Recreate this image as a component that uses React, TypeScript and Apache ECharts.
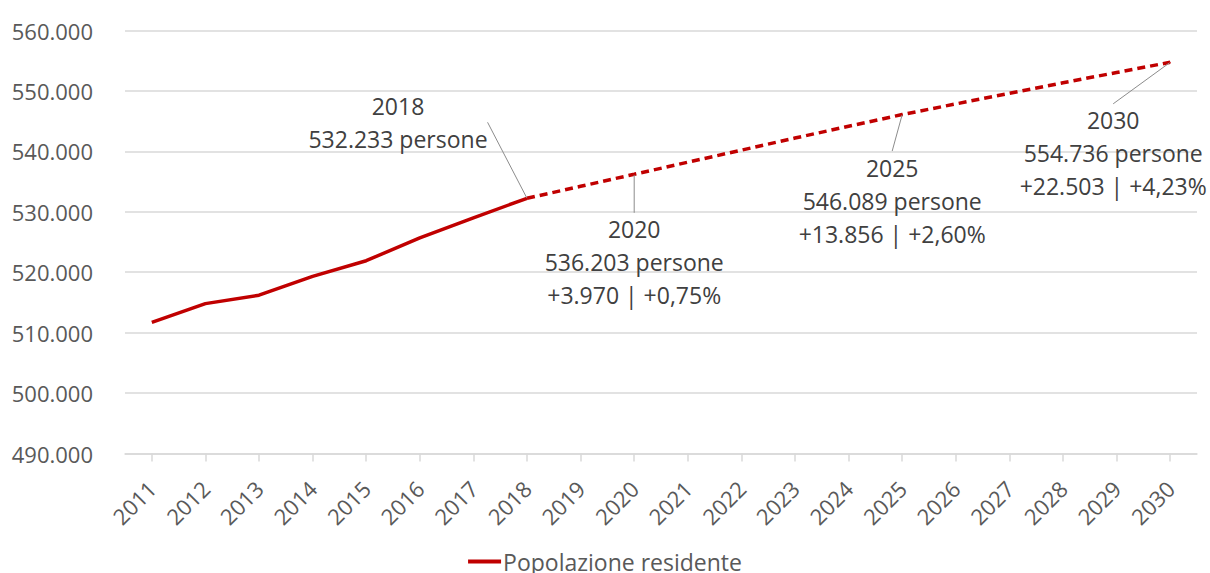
import React, { useEffect, useRef } from "react";
import * as echarts from "echarts";

const years = ["2011","2012","2013","2014","2015","2016","2017","2018","2019","2020","2021","2022","2023","2024","2025","2026","2027","2028","2029","2030"];
const observed = [511700, 514800, 516200, 519300, 521900, 525700, 529000, 532233];
const projected = [534220, 536203, 538200, 540200, 542200, 544150, 546089, 547850, 549600, 551350, 553050, 554736];
const yTicks = { min: 490000, max: 560000, interval: 10000 };
const annotations: Record<string, string[]> = {
  "2018": ["2018", "532.233 persone"],
  "2020": ["2020", "536.203 persone", "+3.970 | +0,75%"],
  "2025": ["2025", "546.089 persone", "+13.856 | +2,60%"],
  "2030": ["2030", "554.736 persone", "+22.503 | +4,23%"],
};
const labelShift: Record<string, [number, number]> = {
  "2018": [-129, -76],
  "2020": [0, 88],
  "2025": [-10, 86],
  "2030": [-57, 91],
};

const fmt = (v: number) => String(Math.round(v)).replace(/\B(?=(\d{3})+(?!\d))/g, ".");
const FONT = "'Open Sans', 'Noto Sans', sans-serif";

export default function App() {
  const ref = useRef<HTMLDivElement>(null);
  useEffect(() => {
    if (!ref.current) return;
    const chart = echarts.init(ref.current, undefined, { renderer: "svg" });
    const obsData = years.map((y, i) => (i < observed.length ? observed[i] : null));
    const projData = years.map((y, i) => {
      if (i === observed.length - 1) return observed[i];
      if (i >= observed.length) return projected[i - observed.length];
      return null;
    });
    const labelStyle = {
      show: true,
      position: "top" as const,
      formatter: (p: any) => (annotations[p.name] || []).join("\n"),
      color: "#404040",
      fontSize: 23,
      lineHeight: 33,
      fontFamily: FONT,
      align: "center" as const,
    };
    const mkData = (arr: (number | null)[], withLabels: string[]) =>
      arr.map((v, i) => {
        const name = years[i];
        if (withLabels.includes(name) && v != null) {
          return {
            value: v,
            symbol: "circle",
            symbolSize: 1,
            label: labelStyle,
            labelLine: { show: true, lineStyle: { color: "#8c8c8c", width: 1 } },
          };
        }
        return { value: v, symbol: "none", label: { show: false } };
      });
    const layout = (params: any) => {
      const name = years[params.dataIndex];
      const s = labelShift[name];
      if (!s) return {};
      const r = params.rect;
      const cx = r.x + r.width / 2;
      const cy = r.y + r.height / 2;
      return { x: cx + s[0], y: cy + s[1], align: "center", verticalAlign: "middle" };
    };
    chart.setOption({
      animation: false,
      grid: { left: 125, right: 13, top: 30.5, bottom: 119.5 },
      legend: {
        top: 545,
        left: "center",
        data: [{ name: "Popolazione residente", icon: "rect" }],
        itemWidth: 33,
        itemHeight: 4,
        itemGap: 4,
        textStyle: { color: "#595959", fontSize: 23, fontFamily: FONT, padding: [0, 0, 0, -3] },
      },
      xAxis: {
        type: "category",
        data: years,
        boundaryGap: true,
        axisLine: { lineStyle: { color: "#d9d9d9", width: 1.5 } },
        axisTick: { show: true, length: 8, alignWithLabel: true, lineStyle: { color: "#d9d9d9", width: 1.5 } },
        axisLabel: { rotate: 45, interval: 0, color: "#595959", fontSize: 22, fontFamily: FONT, margin: 31 },
      },
      yAxis: {
        type: "value",
        min: yTicks.min,
        max: yTicks.max,
        interval: yTicks.interval,
        axisLine: { show: false },
        axisTick: { show: false },
        splitLine: { lineStyle: { color: "#d9d9d9", width: 1.5 } },
        axisLabel: { formatter: (v: number) => fmt(v), color: "#595959", fontSize: 22, fontFamily: FONT, margin: 32 },
      },
      series: [
        {
          name: "Popolazione residente",
          type: "line",
          data: mkData(obsData, ["2018"]),
          symbol: "none",
          showSymbol: true,
          lineStyle: { color: "#c00000", width: 3.5 },
          itemStyle: { color: "#c00000" },
          labelLayout: layout,
          z: 3,
        },
        {
          name: "Proiezione",
          type: "line",
          data: mkData(projData, ["2020", "2025", "2030"]),
          symbol: "none",
          showSymbol: true,
          lineStyle: { color: "#c00000", width: 3.5, type: [8, 5] },
          itemStyle: { color: "#c00000" },
          labelLayout: layout,
          z: 2,
        },
      ],
    });
    return () => chart.dispose();
  }, []);
  return <div ref={ref} style={{ position: "absolute", left: 0, top: 0, width: 1210, height: 573 }} />;
}
